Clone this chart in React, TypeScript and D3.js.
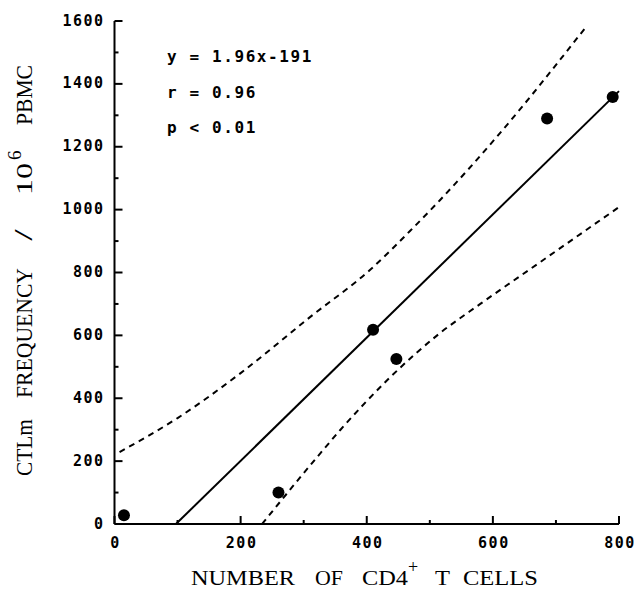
import * as d3 from "d3";

// measured data points (CD4+ T cell count vs CTLm frequency)
const cd4Counts = [15, 260, 410, 447, 686, 790];
const ctlFreq = [28, 100, 618, 525, 1290, 1358];

// regression from the label
const slope = 1.96;
const intercept = -191;
const fitX = [97.4, 800];

// confidence band
const upperX = [8, 100, 200, 310, 405, 473, 516, 606, 750];
const upperY = [229, 337, 480, 658, 808, 941, 1030, 1231, 1587];
const lowerX = [234, 326, 358, 516, 580, 675, 800];
const lowerY = [0, 224, 299, 607, 700, 833, 1008];

const xMajor = [0, 200, 400, 600, 800];
const xMinor = [100, 300, 500, 700];
const yMajor = [0, 200, 400, 600, 800, 1000, 1200, 1400, 1600];
const yMinor = [100, 300, 500, 700, 900, 1100, 1300, 1500];

const statLines = ["y = 1.96x-191", "r = 0.96", "p < 0.01"];

// axis title words: start (page px along the axis) and length
const xTitleWords = [
  { t: "NUMBER", at: 191, len: 104 },
  { t: "OF", at: 315, len: 28 },
  { t: "CD4", at: 362, len: 46 },
  { t: "T", at: 435, len: 15 },
  { t: "CELLS", at: 463, len: 75 },
];
const yTitleWords = [
  { t: "CTLm", at: 476, len: 57 },
  { t: "FREQUENCY", at: 398, len: 130 },
  { t: "10", at: 195, len: 32 },
  { t: "PBMC", at: 125, len: 60 },
];

const serif = "'Liberation Serif', 'Times New Roman', serif";

export default function App() {
  const width = 636,
    height = 594;
  const x = d3.scaleLinear().domain([0, 800]).range([114.5, 619]);
  const y = d3.scaleLinear().domain([0, 1600]).range([524, 21]);

  const line = d3
    .line<[number, number]>()
    .x((d) => x(d[0]))
    .y((d) => y(d[1]))
    .curve(d3.curveMonotoneX);

  const upper = upperX.map((v, i) => [v, upperY[i]] as [number, number]);
  const lower = lowerX.map((v, i) => [v, lowerY[i]] as [number, number]);
  const fit = fitX.map((v) => [v, slope * v + intercept] as [number, number]);

  const tickFont = {
    fontFamily: "'DejaVu Sans Mono', monospace",
    fontWeight: "bold" as const,
    fontSize: 15,
    letterSpacing: 1.5,
  };

  const xBase = 585;
  const yBase = 32;

  return (
    <svg
      width={width}
      height={height}
      style={{ position: "absolute", left: 0, top: 0, background: "#fff" }}
    >
      <rect x={0} y={0} width={width} height={height} fill="#fff" />
      {/* axes */}
      <g stroke="#000" strokeWidth={2} fill="none">
        <line x1={x(0)} x2={x(0)} y1={y(0)} y2={y(1600)} />
        <line x1={x(0)} x2={x(800)} y1={y(0)} y2={y(0)} />
        {yMajor.map((t) => (
          <line key={"ym" + t} x1={x(0)} x2={x(0) + 8} y1={y(t)} y2={y(t)} />
        ))}
        {yMinor.map((t) => (
          <line key={"yn" + t} x1={x(0)} x2={x(0) + 4} y1={y(t)} y2={y(t)} />
        ))}
        {xMajor.map((t) => (
          <line key={"xm" + t} x1={x(t)} x2={x(t)} y1={y(0)} y2={y(0) - 8} />
        ))}
        {xMinor.map((t) => (
          <line key={"xn" + t} x1={x(t)} x2={x(t)} y1={y(0)} y2={y(0) - 4} />
        ))}
      </g>
      {/* tick labels */}
      <g {...tickFont} fill="#000">
        {yMajor.map((t) => (
          <text
            key={"yl" + t}
            x={x(0) - 10}
            y={y(t)}
            textAnchor="end"
            dominantBaseline="middle"
          >
            {t}
          </text>
        ))}
        {xMajor.map((t) => (
          <text key={"xl" + t} x={x(t) + 1} y={y(0) + 24} textAnchor="middle">
            {t}
          </text>
        ))}
      </g>
      {/* lines */}
      <path d={line(upper) || ""} fill="none" stroke="#000" strokeWidth={2} strokeDasharray="6,5" />
      <path d={line(lower) || ""} fill="none" stroke="#000" strokeWidth={2} strokeDasharray="6,5" />
      <path d={line(fit) || ""} fill="none" stroke="#000" strokeWidth={2} />
      {/* points */}
      {cd4Counts.map((c, i) => (
        <circle key={i} cx={x(c)} cy={y(ctlFreq[i])} r={6} fill="#000" />
      ))}
      {/* stats */}
      <g
        fontFamily="'DejaVu Sans Mono', monospace"
        fontWeight="bold"
        fontSize={16}
        letterSpacing={1.6}
        fill="#000"
      >
        {statLines.map((s, i) => (
          <text key={s} x={167} y={62 + i * 35.5} style={{ whiteSpace: "pre" }}>
            {s}
          </text>
        ))}
      </g>
      {/* x axis title */}
      <g fontFamily={serif} fontSize={21} fill="#000">
        {xTitleWords.map((w) => (
          <text
            key={w.t}
            x={w.at}
            y={xBase}
            textLength={w.len}
            lengthAdjust="spacingAndGlyphs"
          >
            {w.t}
          </text>
        ))}
        <text fontSize={18} x={408} y={xBase - 12}>
          +
        </text>
      </g>
      {/* y axis title */}
      <g fontFamily={serif} fontSize={24} fill="#000">
        {yTitleWords.map((w) => (
          <text
            key={w.t}
            x={0}
            y={0}
            textLength={w.len}
            lengthAdjust="spacingAndGlyphs"
            transform={`translate(${yBase},${w.at}) rotate(-90)`}
          >
            {w.t}
          </text>
        ))}
        <text
          fontSize={26}
          textAnchor="middle"
          transform={`translate(${yBase},235) rotate(-90) scale(1.6,1)`}
        >
          /
        </text>
        <text fontSize={19} transform={`translate(${yBase - 11},${160}) rotate(-90)`}>
          6
        </text>
      </g>
    </svg>
  );
}
